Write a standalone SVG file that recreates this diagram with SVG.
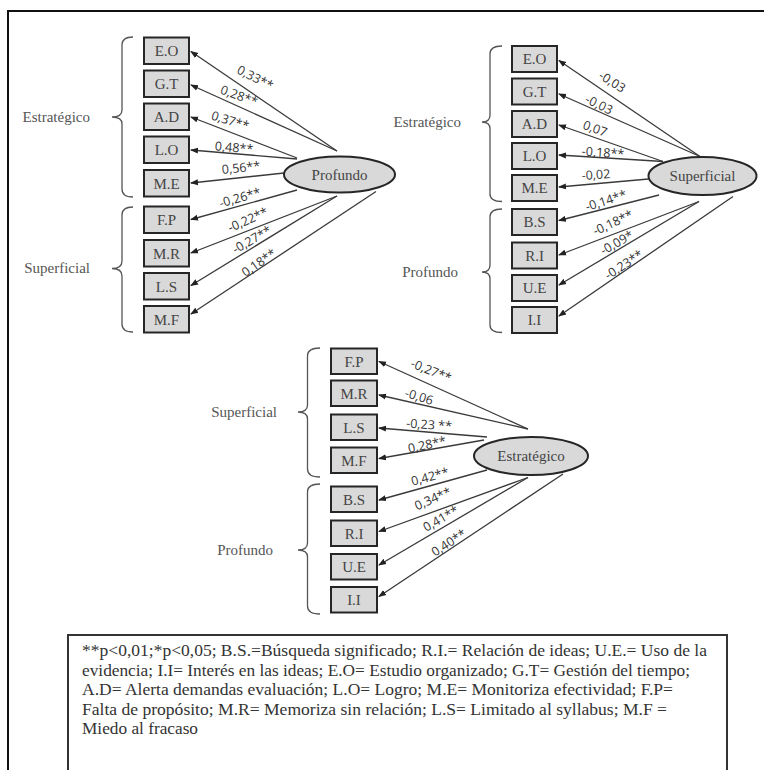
<svg xmlns="http://www.w3.org/2000/svg" width="764" height="770" viewBox="0 0 764 770">
<defs>
<marker id="ah" markerUnits="userSpaceOnUse" markerWidth="8" markerHeight="8" viewBox="0 0 8 8" refX="7" refY="4" orient="auto"><path d="M0,1 L8,4 L0,7 Z" fill="#222"/></marker>
<style>
.box{fill:#d9d9d9;stroke:#262626;stroke-width:2}
.ell{fill:#d9d9d9;stroke:#262626;stroke-width:2}
.nt{font-family:'Liberation Serif','Times New Roman','DejaVu Serif',serif;font-size:15px;fill:#444;text-anchor:middle}
.gl{font-family:'Liberation Serif','Times New Roman','DejaVu Serif',serif;font-size:15px;fill:#555;text-anchor:end}
.br{fill:none;stroke:#555;stroke-width:1.3}
.cn{stroke:#3a3a3a;stroke-width:1.3;fill:none;marker-end:url(#ah)}
.lb{font-family:'Open Sans',sans-serif;font-size:12.5px;fill:#333;text-anchor:middle}
.lg{font-family:'Liberation Serif','Times New Roman','DejaVu Serif',serif;font-size:17px;fill:#333}
</style>
</defs>
<rect width="764" height="770" fill="#fff"/>
<path d="M8,770 L8,11 L764,11" fill="none" stroke="#111" stroke-width="2"/>

<!-- connectors -->
<g id="connectors">
<line class="cn" x1="337" y1="151" x2="191" y2="51.5"/>
<line class="cn" x1="337" y1="151" x2="191" y2="85"/>
<line class="cn" x1="297" y1="158" x2="191" y2="117"/>
<line class="cn" x1="297" y1="159" x2="191" y2="150"/>
<line class="cn" x1="284" y1="173" x2="191" y2="183"/>
<line class="cn" x1="297" y1="190" x2="191" y2="219.5"/>
<line class="cn" x1="337" y1="196" x2="191" y2="253"/>
<line class="cn" x1="337" y1="196" x2="191" y2="285.5"/>
<line class="cn" x1="376" y1="191.5" x2="191" y2="314"/>

<line class="cn" x1="700" y1="156.5" x2="559" y2="60.5"/>
<line class="cn" x1="700" y1="156.5" x2="559" y2="94"/>
<line class="cn" x1="663" y1="161.5" x2="559" y2="125"/>
<line class="cn" x1="663" y1="161.5" x2="559" y2="155"/>
<line class="cn" x1="648.5" y1="179" x2="559" y2="187"/>
<line class="cn" x1="659" y1="195" x2="559" y2="220.5"/>
<line class="cn" x1="699" y1="201.5" x2="559" y2="255"/>
<line class="cn" x1="699" y1="201.5" x2="559" y2="285"/>
<line class="cn" x1="733" y1="196.5" x2="559" y2="316"/>

<line class="cn" x1="528" y1="429" x2="379" y2="361.5"/>
<line class="cn" x1="528" y1="429" x2="379" y2="395"/>
<line class="cn" x1="487" y1="437" x2="379" y2="428"/>
<line class="cn" x1="484" y1="440" x2="379" y2="458.5"/>
<line class="cn" x1="487" y1="470" x2="379" y2="500"/>
<line class="cn" x1="528" y1="477.5" x2="379" y2="531.5"/>
<line class="cn" x1="528" y1="477.5" x2="379" y2="565"/>
<line class="cn" x1="563" y1="474" x2="379" y2="596.5"/>
</g>

<!-- connector labels -->
<g id="labels">
<text class="lb" transform="translate(255,78) rotate(27)" y="4">0,33**</text>
<text class="lb" transform="translate(239,96) rotate(20)" y="4">0,28**</text>
<text class="lb" transform="translate(230,121) rotate(17)" y="4">0,37**</text>
<text class="lb" transform="translate(234,148) rotate(5)" y="4">0,48**</text>
<text class="lb" transform="translate(241,168) rotate(-6)" y="4">0,56**</text>
<text class="lb" transform="translate(240,198) rotate(-16)" y="4">-0,26**</text>
<text class="lb" transform="translate(248,220) rotate(-24)" y="4">-0,22**</text>
<text class="lb" transform="translate(252,240) rotate(-30)" y="4">-0,27**</text>
<text class="lb" transform="translate(259,263) rotate(-35)" y="4">0,18**</text>

<text class="lb" transform="translate(612,82) rotate(32)" y="4">-0,03</text>
<text class="lb" transform="translate(599,105) rotate(26)" y="4">-0,03</text>
<text class="lb" transform="translate(595,129) rotate(20)" y="4">0,07</text>
<text class="lb" transform="translate(603,153) rotate(4)" y="4">-0,18**</text>
<text class="lb" transform="translate(596,175) rotate(-4)" y="4">-0,02</text>
<text class="lb" transform="translate(606,201) rotate(-18)" y="4">-0,14**</text>
<text class="lb" transform="translate(613,223) rotate(-25)" y="4">-0,18**</text>
<text class="lb" transform="translate(617,243) rotate(-30)" y="4">-0,09*</text>
<text class="lb" transform="translate(624,265) rotate(-33)" y="4">-0,23**</text>

<text class="lb" transform="translate(431,371) rotate(22)" y="4">-0,27**</text>
<text class="lb" transform="translate(419,397) rotate(17)" y="4">-0,06</text>
<text class="lb" transform="translate(429,425) rotate(4)" y="4">-0,23 **</text>
<text class="lb" transform="translate(427,445) rotate(-12)" y="4">0,28**</text>
<text class="lb" transform="translate(430,477) rotate(-15)" y="4">0,42**</text>
<text class="lb" transform="translate(433,499) rotate(-24)" y="4">0,34**</text>
<text class="lb" transform="translate(441,519) rotate(-30)" y="4">0,41**</text>
<text class="lb" transform="translate(449,543) rotate(-33)" y="4">0,40**</text>
</g>

<!-- Diagram 1: Profundo -->
<g id="d1-brackets">
<path class="br" d="M133,37 Q122,37 122,45 L122,110 Q122,117 112,117 Q122,117 122,124 L122,189 Q122,197 133,197"/>
<text class="gl" x="90" y="121.5">Estratégico</text>
<path class="br" d="M133,207 Q122,207 122,215 L122,261 Q122,268.5 112,268.5 Q122,268.5 122,276 L122,324 Q122,332 133,332"/>
<text class="gl" x="90" y="273">Superficial</text>
</g>
<g id="d1-EO"><rect class="box" x="144" y="37.5" width="45" height="26.5"/><text class="nt" x="166.5" y="56">E.O</text></g>
<g id="d1-GT"><rect class="box" x="144" y="70.5" width="45" height="26.5"/><text class="nt" x="166.5" y="89">G.T</text></g>
<g id="d1-AD"><rect class="box" x="144" y="103.5" width="45" height="26.5"/><text class="nt" x="166.5" y="122">A.D</text></g>
<g id="d1-LO"><rect class="box" x="144" y="136.5" width="45" height="26.5"/><text class="nt" x="166.5" y="155">L.O</text></g>
<g id="d1-ME"><rect class="box" x="144" y="170" width="45" height="26.5"/><text class="nt" x="166.5" y="188.5">M.E</text></g>
<g id="d1-FP"><rect class="box" x="144" y="206.5" width="45" height="26.5"/><text class="nt" x="166.5" y="225">F.P</text></g>
<g id="d1-MR"><rect class="box" x="144" y="240" width="45" height="26.5"/><text class="nt" x="166.5" y="258.5">M.R</text></g>
<g id="d1-LS"><rect class="box" x="144" y="273" width="45" height="26.5"/><text class="nt" x="166.5" y="291.5">L.S</text></g>
<g id="d1-MF"><rect class="box" x="144" y="306" width="45" height="26.5"/><text class="nt" x="166.5" y="324.5">M.F</text></g>
<g id="d1-Profundo"><ellipse class="ell" cx="339.5" cy="174.5" rx="55.5" ry="18"/><text class="nt" x="339.5" y="179.5">Profundo</text></g>

<!-- Diagram 2: Superficial -->
<g id="d2-brackets">
<path class="br" d="M502,46 Q490,46 490,54 L490,115 Q490,122 482,122 Q490,122 490,129 L490,194 Q490,201.5 502,201.5"/>
<text class="gl" x="461" y="127">Estratégico</text>
<path class="br" d="M502,209 Q490,209 490,217 L490,265 Q490,272 482,272 Q490,272 490,279 L490,325 Q490,332.5 502,332.5"/>
<text class="gl" x="458" y="276.5">Profundo</text>
</g>
<g id="d2-EO"><rect class="box" x="512" y="46" width="45" height="26"/><text class="nt" x="534.5" y="64">E.O</text></g>
<g id="d2-GT"><rect class="box" x="512" y="78.5" width="45" height="26"/><text class="nt" x="534.5" y="96.5">G.T</text></g>
<g id="d2-AD"><rect class="box" x="512" y="111" width="45" height="26"/><text class="nt" x="534.5" y="129">A.D</text></g>
<g id="d2-LO"><rect class="box" x="512" y="143" width="45" height="26"/><text class="nt" x="534.5" y="161">L.O</text></g>
<g id="d2-ME"><rect class="box" x="512" y="175" width="45" height="26"/><text class="nt" x="534.5" y="193">M.E</text></g>
<g id="d2-BS"><rect class="box" x="512" y="209" width="45" height="26"/><text class="nt" x="534.5" y="227">B.S</text></g>
<g id="d2-RI"><rect class="box" x="512" y="242.5" width="45" height="26"/><text class="nt" x="534.5" y="260.5">R.I</text></g>
<g id="d2-UE"><rect class="box" x="512" y="275" width="45" height="26"/><text class="nt" x="534.5" y="293">U.E</text></g>
<g id="d2-II"><rect class="box" x="512" y="307" width="45" height="26"/><text class="nt" x="534.5" y="325">I.I</text></g>
<g id="d2-Superficial"><ellipse class="ell" cx="702.5" cy="176" rx="54" ry="19"/><text class="nt" x="702.5" y="181">Superficial</text></g>

<!-- Diagram 3: Estratégico -->
<g id="d3-brackets">
<path class="br" d="M320,348 Q307.5,348 307.5,356 L307.5,405 Q307.5,412 298,412 Q307.5,412 307.5,419 L307.5,469 Q307.5,477 320,477"/>
<text class="gl" x="277" y="416.5">Superficial</text>
<path class="br" d="M320,484 Q307.5,484 307.5,492 L307.5,543 Q307.5,550 298,550 Q307.5,550 307.5,557 L307.5,606 Q307.5,614 320,614"/>
<text class="gl" x="273" y="554.5">Profundo</text>
</g>
<g id="d3-FP"><rect class="box" x="331" y="348.5" width="46" height="25.5"/><text class="nt" x="354" y="366.5">F.P</text></g>
<g id="d3-MR"><rect class="box" x="331" y="380.5" width="46" height="25.5"/><text class="nt" x="354" y="398.5">M.R</text></g>
<g id="d3-LS"><rect class="box" x="331" y="414.5" width="46" height="25.5"/><text class="nt" x="354" y="432.5">L.S</text></g>
<g id="d3-MF"><rect class="box" x="331" y="447.5" width="46" height="25.5"/><text class="nt" x="354" y="465.5">M.F</text></g>
<g id="d3-BS"><rect class="box" x="331" y="486.5" width="46" height="25.5"/><text class="nt" x="354" y="504.5">B.S</text></g>
<g id="d3-RI"><rect class="box" x="331" y="520.5" width="46" height="25.5"/><text class="nt" x="354" y="538.5">R.I</text></g>
<g id="d3-UE"><rect class="box" x="331" y="554" width="46" height="25.5"/><text class="nt" x="354" y="572">U.E</text></g>
<g id="d3-II"><rect class="box" x="331" y="587" width="46" height="25.5"/><text class="nt" x="354" y="605">I.I</text></g>
<g id="d3-Estrategico"><ellipse class="ell" cx="531" cy="456" rx="57" ry="19"/><text class="nt" x="531" y="461">Estratégico</text></g>

<!-- Legend -->
<g id="legend">
<rect x="68" y="635" width="659" height="150" fill="#fff" stroke="#333" stroke-width="2"/>
<text class="lg" x="82" y="656" textLength="625" lengthAdjust="spacingAndGlyphs">**p&lt;0,01;*p&lt;0,05; B.S.=Búsqueda significado; R.I.= Relación de ideas; U.E.= Uso de la</text>
<text class="lg" x="82" y="675.5" textLength="608" lengthAdjust="spacingAndGlyphs">evidencia; I.I= Interés en las ideas; E.O= Estudio organizado; G.T= Gestión del tiempo;</text>
<text class="lg" x="82" y="695" textLength="591" lengthAdjust="spacingAndGlyphs">A.D= Alerta demandas evaluación; L.O= Logro; M.E= Monitoriza efectividad; F.P=</text>
<text class="lg" x="82" y="714.5" textLength="585" lengthAdjust="spacingAndGlyphs">Falta de propósito; M.R= Memoriza sin relación; L.S= Limitado al syllabus; M.F =</text>
<text class="lg" x="82" y="734" textLength="116" lengthAdjust="spacingAndGlyphs">Miedo al fracaso</text>
</g>
</svg>
